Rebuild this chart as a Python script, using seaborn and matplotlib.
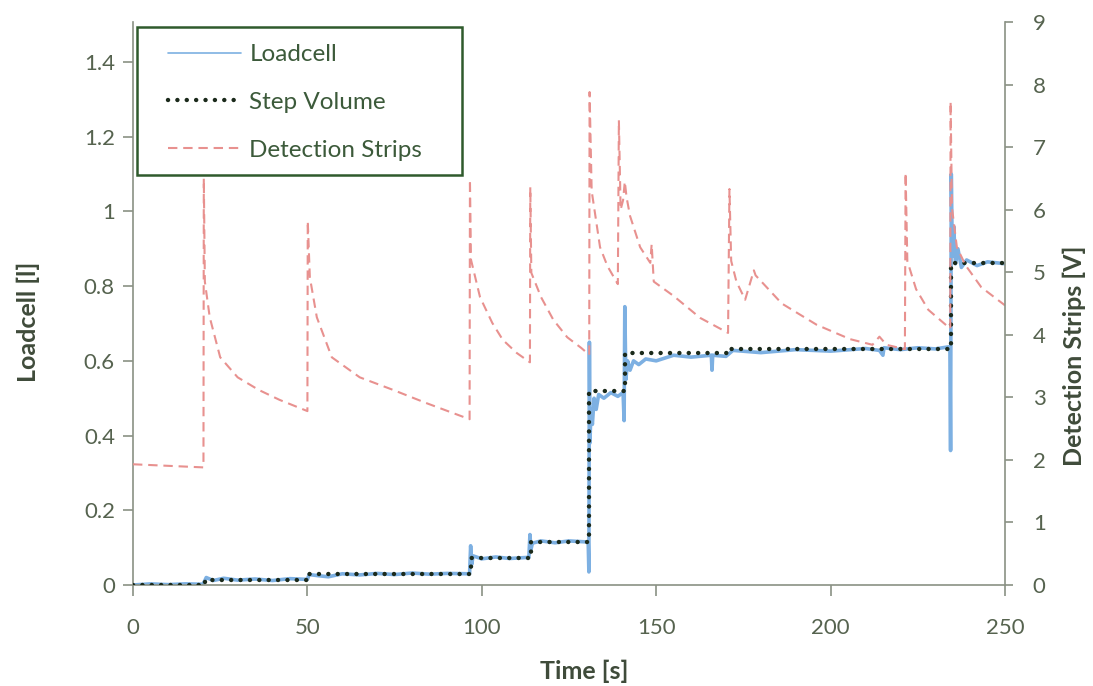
import numpy as np
import pandas as pd
import matplotlib
matplotlib.use("Agg")
import matplotlib.pyplot as plt
import seaborn as sns
from matplotlib.lines import Line2D
from matplotlib.patches import Rectangle

# ---------------- data ----------------
load_t = [0, 5, 10, 15, 20, 20.5, 21, 23, 26, 30, 35, 40, 45, 50, 50.5, 53, 56, 60, 65, 70,
          75, 80, 85, 90, 96.5, 96.8, 97.1, 97.5, 100, 104, 108, 113.5, 113.8, 114.1, 114.5,
          117, 121, 125, 130.5, 130.7, 130.85, 131.0, 131.3, 131.7, 132.2, 132.8, 133.5, 135,
          137, 139, 140.5, 140.8, 141.0, 141.3, 141.8, 142.5, 143.5, 145, 147, 150, 155, 160,
          165.8, 166.0, 166.2, 170, 172, 180, 190, 200, 210, 214, 215, 215.3, 220, 225, 230,
          234.2, 234.4, 234.6, 234.9, 235.3, 235.8, 236.5, 237.5, 239, 242, 245, 250]
load_v = [0.000, 0.003, 0.001, 0.003, 0.002, 0.010, 0.020, 0.012, 0.018, 0.013, 0.016, 0.012,
          0.017, 0.015, 0.028, 0.025, 0.022, 0.030, 0.027, 0.031, 0.028, 0.032, 0.029, 0.031,
          0.030, 0.105, 0.055, 0.078, 0.070, 0.075, 0.071, 0.074, 0.135, 0.095, 0.112, 0.118,
          0.113, 0.118, 0.115, 0.035, 0.650, 0.380, 0.470, 0.430, 0.500, 0.470, 0.510, 0.500,
          0.515, 0.505, 0.515, 0.440, 0.745, 0.550, 0.600, 0.575, 0.600, 0.590, 0.605, 0.600,
          0.615, 0.610, 0.615, 0.575, 0.615, 0.612, 0.628, 0.622, 0.630, 0.626, 0.633, 0.628,
          0.615, 0.635, 0.630, 0.635, 0.632, 0.638, 0.360, 1.100, 0.880, 0.960, 0.860, 0.900,
          0.850, 0.870, 0.855, 0.865, 0.860]

step_t = [0, 20.5, 20.5, 50, 50, 97, 97, 114, 114, 130.8, 130.8, 141, 141, 171, 171,
          234.6, 234.6, 250]
step_v = [0.0, 0.0, 0.013, 0.013, 0.029, 0.029, 0.072, 0.072, 0.115, 0.115, 0.52, 0.52,
          0.62, 0.62, 0.632, 0.632, 0.862, 0.862]

strip_t = [0, 20.2, 20.3, 20.6, 22, 25, 30, 36, 42, 50, 50.1, 50.7, 52.7, 57, 65, 74.5, 84,
           96.5, 96.6, 96.9, 99.5, 103, 106, 110, 113.8, 113.9, 114.2, 117, 120.5, 124.5,
           128.5, 130.8, 130.9, 131.5, 133.9, 136, 139, 139.3, 139.8, 140.5, 141, 141.5,
           142.5, 145.4, 148.3, 148.7, 149.3, 155, 162.6, 170.6, 171, 171.5, 173, 175.5,
           178, 178.5, 186, 196, 205.6, 212, 214, 216, 221.3, 221.5, 222, 224.5, 228, 233,
           234.3, 234.4, 234.8, 236.2, 238.7, 243.2, 250]
strip_v = [1.93, 1.88, 6.50, 4.85, 4.28, 3.64, 3.32, 3.12, 2.96, 2.78, 5.82, 4.92, 4.28,
           3.64, 3.32, 3.12, 2.91, 2.65, 6.48, 5.20, 4.60, 4.19, 3.92, 3.71, 3.56, 6.36, 4.99,
           4.60, 4.24, 3.96, 3.79, 3.68, 7.88, 6.30, 5.40, 5.10, 4.81, 7.43, 6.00, 6.15, 6.45,
           6.20, 5.90, 5.40, 5.15, 5.45, 4.85, 4.62, 4.27, 4.03, 6.33, 5.18, 4.85, 4.56, 5.03,
           4.95, 4.50, 4.16, 3.93, 3.84, 3.97, 3.84, 3.77, 6.59, 5.18, 4.73, 4.40, 4.16, 4.10,
           7.73, 6.03, 5.40, 5.11, 4.76, 4.47]

x_ticks = [0, 50, 100, 150, 200, 250]
left_ticks = [0, 0.2, 0.4, 0.6, 0.8, 1.0, 1.2, 1.4]
left_labels = ["0", "0.2", "0.4", "0.6", "0.8", "1", "1.2", "1.4"]
right_ticks = [0, 1, 2, 3, 4, 5, 6, 7, 8, 9]
series_names = ["Loadcell", "Step Volume", "Detection Strips"]

# ---------------- style ----------------
sns.set_style("white")
plt.rcParams['font.family'] = ['Lato', 'DejaVu Sans']

TICK_C = '#56634f'
LABEL_C = '#3f4b3a'
SPINE_C = '#8a9184'
BLUE = '#7db0e2'
PINK = '#e8918f'
DOT = '#1b2a1b'
DOTTED = (0, (0.01, 2.1))
DASHED = (0, (4.5, 2.8))

fig = plt.figure(figsize=(10.93, 6.86), dpi=100)
fig.patch.set_facecolor('white')
ax = fig.add_axes([133 / 1093, 101 / 686, 872 / 1093, 563 / 686])
ax2 = ax.twinx()

load_df = pd.DataFrame({"t": load_t, "v": load_v})
step_df = pd.DataFrame({"t": step_t, "v": step_v})
strip_df = pd.DataFrame({"t": strip_t, "v": strip_v})

sns.lineplot(data=load_df, x="t", y="v", ax=ax, sort=False, estimator=None,
             color=BLUE, linewidth=2.6, zorder=2)
sns.lineplot(data=step_df, x="t", y="v", ax=ax, sort=False, estimator=None,
             color=DOT, linewidth=3.2, linestyle=DOTTED, dash_capstyle='round', zorder=3)
sns.lineplot(data=strip_df, x="t", y="v", ax=ax2, sort=False, estimator=None,
             color=PINK, linewidth=1.5, linestyle=DASHED, zorder=2)

ax.set_xlim(0, 250)
ax.set_ylim(0, 1.507)
ax2.set_ylim(0, 9)
ax.set_xticks(x_ticks)
ax.set_xticklabels([str(v) for v in x_ticks])
ax.set_yticks(left_ticks)
ax.set_yticklabels(left_labels)
ax2.set_yticks(right_ticks)
ax2.set_yticklabels([str(v) for v in right_ticks])

for a in (ax, ax2):
    a.spines['top'].set_visible(False)
    for s in ('left', 'bottom', 'right'):
        a.spines[s].set_color(SPINE_C)
        a.spines[s].set_linewidth(1.2)
    a.grid(False)
ax.spines['right'].set_visible(False)
ax2.spines['left'].set_visible(False)
ax2.spines['bottom'].set_visible(False)

ax.tick_params(axis='x', direction='out', length=8, width=1.2, color=SPINE_C,
               labelsize=16, labelcolor=TICK_C, pad=16, bottom=True)
ax.tick_params(axis='y', direction='out', length=7, width=1.2, color=SPINE_C,
               labelsize=16, labelcolor=TICK_C, pad=6, left=True)
ax2.tick_params(axis='y', direction='out', length=6, width=1.2, color=SPINE_C,
                labelsize=16, labelcolor=TICK_C, pad=14, right=True)

ax.set_xlabel("Time [s]", fontsize=18, fontweight='bold', color=LABEL_C)
ax.set_ylabel("Loadcell [l]", fontsize=18, fontweight='bold', color=LABEL_C)
ax2.set_ylabel("Detection Strips [V]", fontsize=18, fontweight='bold', color=LABEL_C,
               rotation=90)
ax.xaxis.set_label_coords(0.518, -0.133)
ax.yaxis.set_label_coords(-0.107, 0.467)
ax2.yaxis.set_label_coords(1.0665, 0.407)

# legend frame drawn as a rectangle, legend itself frameless
frame = Rectangle((4 / 872, (585 - 175) / 563), 325 / 872, 148 / 563,
                  transform=ax2.transAxes, facecolor='white', edgecolor='#2f5a2c',
                  linewidth=1.8, zorder=9, clip_on=False)
ax2.add_patch(frame)

handles = [
    Line2D([], [], color=BLUE, linewidth=1.2),
    Line2D([], [], color=DOT, linewidth=3.2, linestyle=DOTTED, dash_capstyle='round'),
    Line2D([], [], color=PINK, linewidth=1.5, linestyle=DASHED),
]
leg = ax2.legend(handles, series_names, loc='upper left',
                 bbox_to_anchor=((168 - 133) / 872, (585 - 44) / 563),
                 borderaxespad=0, borderpad=0, frameon=False, fontsize=17.5,
                 handlelength=3.0, handletextpad=0.35, labelspacing=1.1,
                 labelcolor='#3c5a3a')
leg.set_zorder(10)

fig.savefig("out.png", dpi=100, facecolor='white')
